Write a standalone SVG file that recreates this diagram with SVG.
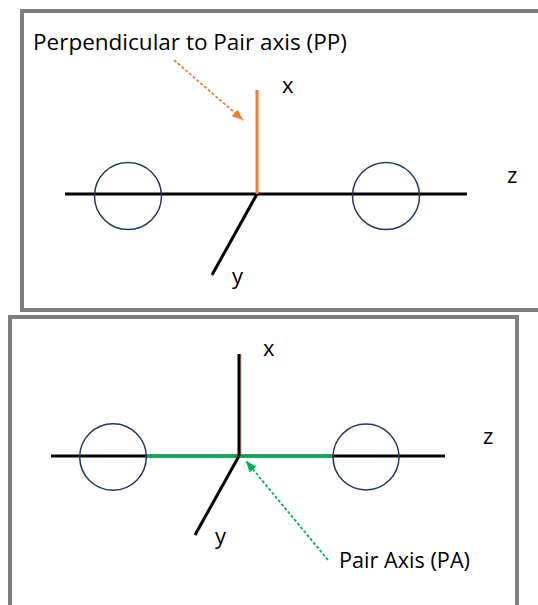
<svg xmlns="http://www.w3.org/2000/svg" width="538" height="605" viewBox="0 0 538 605">
<style>
.frame{fill:none;stroke:#7f7f7f;stroke-width:4}
.axis{stroke:#000;stroke-width:3;fill:none}
.atom{fill:none;stroke:#203864;stroke-width:1.5}
.lbl{font-family:"Open Sans","Noto Sans",sans-serif;font-size:22px;fill:#000}
.pp{stroke:#ed7d31;stroke-width:3}
.pa{stroke:#00b050;stroke-width:3}
.dash-o{stroke:#ed7d31;stroke-width:1.8;stroke-dasharray:3 2;fill:none}
.dash-g{stroke:#00b050;stroke-width:1.8;stroke-dasharray:3 2;fill:none}
</style>
<defs>
<marker id="ah-o" markerUnits="userSpaceOnUse" markerWidth="12" markerHeight="10" refX="11" refY="4.5" orient="auto"><path d="M0,0 L11,4.5 L0,9 z" fill="#ed7d31"/></marker>
<marker id="ah-g" markerUnits="userSpaceOnUse" markerWidth="12" markerHeight="10" refX="11" refY="4.5" orient="auto"><path d="M0,0 L11,4.5 L0,9 z" fill="#00b050"/></marker>
</defs>
<rect width="538" height="605" fill="#fff"/>
<g id="panel-top">
<rect class="frame" x="22" y="11" width="540" height="299"/>
</g>
<g id="panel-bottom">
<rect class="frame" x="10" y="317" width="507" height="300"/>
</g>
<g id="connectors">
<line class="axis" x1="65" y1="194" x2="467" y2="194"/>
<line class="axis" x1="257" y1="194" x2="212" y2="275"/>
<line class="pp" x1="257" y1="90" x2="257" y2="194"/>
<line class="dash-o" x1="174" y1="60" x2="243" y2="120" marker-end="url(#ah-o)"/>
<line class="axis" x1="51" y1="456" x2="445" y2="456"/>
<line class="pa" x1="146" y1="456" x2="332" y2="456"/>
<line stroke="#ed7d31" stroke-width="1" x1="240.8" y1="354" x2="240.8" y2="455"/>
<line class="axis" stroke-width="2.6" x1="239" y1="354" x2="239" y2="456"/>
<line class="axis" x1="239" y1="456" x2="195" y2="535"/>
<line class="dash-g" x1="328" y1="560" x2="246" y2="461" marker-end="url(#ah-g)"/>
</g>
<g id="atom-top-left"><circle class="atom" cx="128" cy="196" r="33.5"/></g>
<g id="atom-top-right"><circle class="atom" cx="386" cy="196" r="33.5"/></g>
<g id="atom-bottom-left"><circle class="atom" cx="113" cy="457" r="33.3"/></g>
<g id="atom-bottom-right"><circle class="atom" cx="366" cy="457" r="33"/></g>
<g id="labels">
<text class="lbl" x="33" y="50" textLength="314" lengthAdjust="spacingAndGlyphs">Perpendicular to Pair axis (PP)</text>
<text class="lbl" x="282" y="93">x</text>
<text class="lbl" x="507" y="183">z</text>
<text class="lbl" x="232" y="284">y</text>
<text class="lbl" x="263" y="356">x</text>
<text class="lbl" x="483" y="444">z</text>
<text class="lbl" x="215" y="544">y</text>
<text class="lbl" x="339" y="568" textLength="131" lengthAdjust="spacingAndGlyphs">Pair Axis (PA)</text>
</g>
</svg>
